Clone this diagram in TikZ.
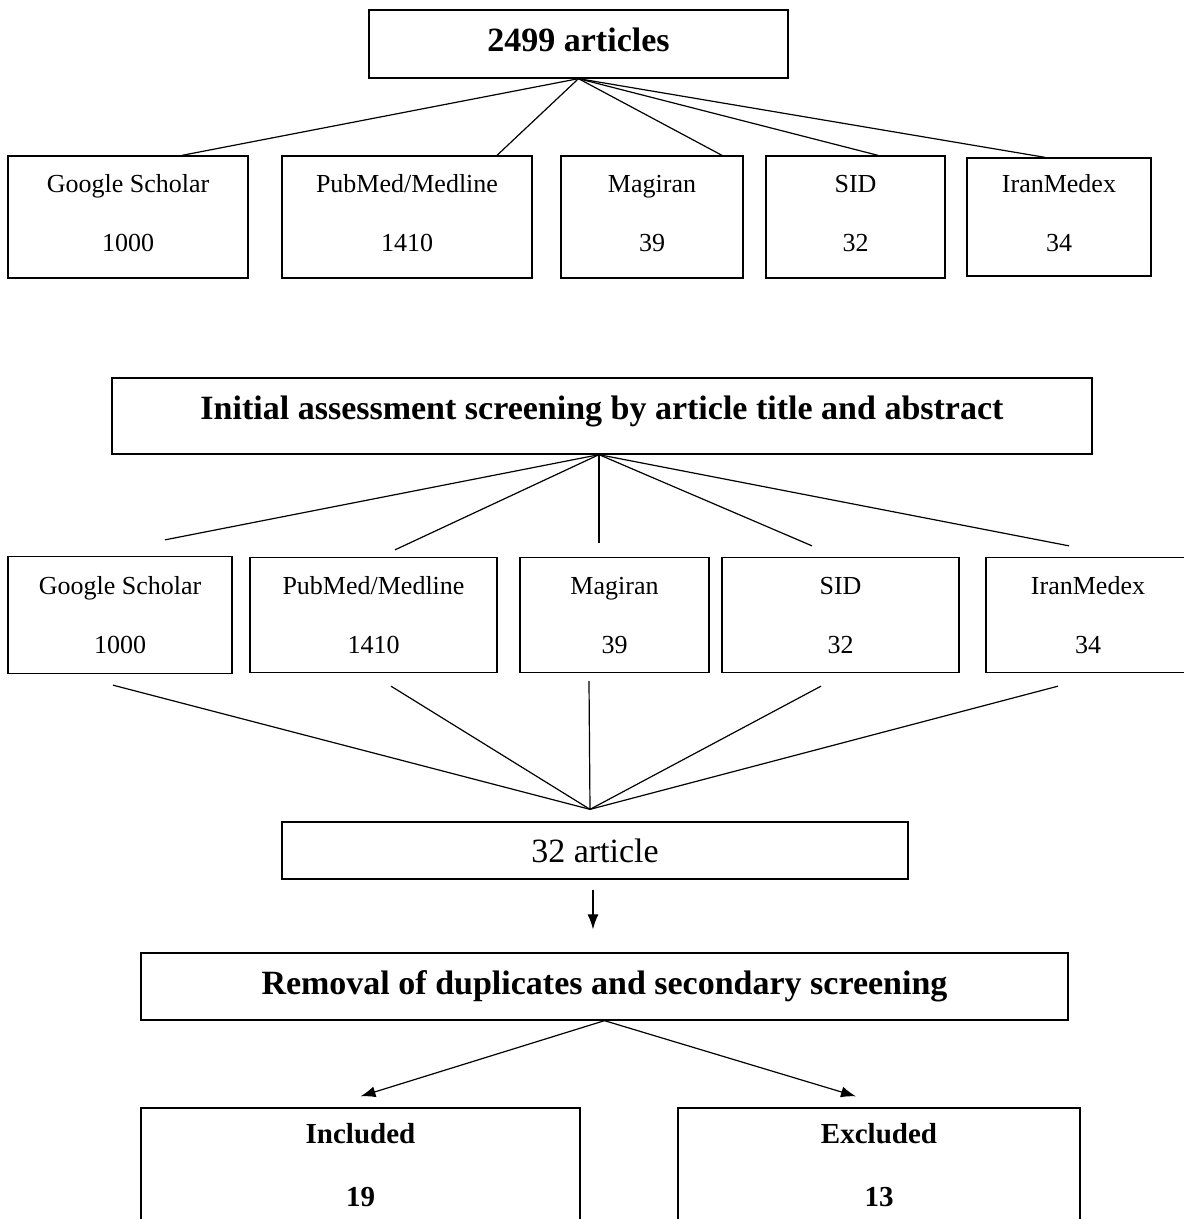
\documentclass[tikz,border=0pt]{standalone}
\usepackage{fontspec}
\setmainfont{Liberation Serif}
\usetikzlibrary{calc,arrows,arrows.meta,positioning}
\tikzset{
    block/.style = {draw, rectangle, line width=1.3pt, inner sep=0pt,
        align=center},
    src/.style = {block, font=\fontsize{26}{30}\selectfont, text depth=#1},
    src/.default = 8pt,
    head/.style = {block, font=\fontsize{34}{40}\selectfont\bfseries},
    res/.style = {block, font=\fontsize{29}{34}\selectfont\bfseries},
    line/.style = {draw, line width=1.2pt},
    arrow/.style = {line, -{Latex[length=15pt,width=11pt]}}
}
\newcommand{\db}[2]{#1\\[29pt]#2}

\begin{document}
\begin{tikzpicture}[x=1pt,y=-1pt]
        \useasboundingbox (0,0) rectangle (1184,1219);
        \node [head, text depth=8pt, minimum width=419pt, minimum height=68pt] (total) at (578.5,44) {2499 articles};
        \node [src, minimum width=240pt, minimum height=122pt] (gs1) at (128,217) {\db{Google Scholar}{1000}};
        \node [src, right of=gs1, node distance=279pt, minimum width=250pt, minimum height=122pt] (pm1) {\db{PubMed/Medline}{1410}};
        \node [src, right of=pm1, node distance=245pt, minimum width=182pt, minimum height=122pt] (mg1) {\db{Magiran}{39}};
        \node [src, right of=mg1, node distance=203.5pt, minimum width=179pt, minimum height=122pt] (sid1) {\db{SID}{32}};
        \node [src, right of=sid1, node distance=203.5pt, minimum width=184pt, minimum height=118pt] (im1) {\db{IranMedex}{34}};
        \draw [line] (total.south) -- ([xshift=54pt]gs1.north);
        \draw [line] (total.south) -- ([xshift=90pt]pm1.north);
        \draw [line] (total.south) -- ([xshift=70pt]mg1.north);
        \draw [line] (total.south) -- ([xshift=22.5pt]sid1.north);
        \draw [line] (total.south) -- ([xshift=-14pt]im1.north);

        \node [head, text depth=17pt, minimum width=980pt, minimum height=76pt] (init) at (602,416) {Initial assessment screening by article title and abstract};
        \node [src=0pt, minimum width=224pt, minimum height=117pt] (gs2) at (120,615) {\db{Google Scholar}{1000}};
        \node [src=0pt, right of=gs2, node distance=253.5pt, minimum width=247pt, minimum height=115pt] (pm2) {\db{PubMed/Medline}{1410}};
        \node [src=0pt, right of=pm2, node distance=241pt, minimum width=189pt, minimum height=115pt] (mg2) {\db{Magiran}{39}};
        \node [src=0pt, right of=mg2, node distance=226pt, minimum width=237pt, minimum height=115pt] (sid2) {\db{SID}{32}};
        \node [src=0pt, right of=sid2, node distance=247.5pt, minimum width=204pt, minimum height=115pt] (im2) {\db{IranMedex}{34}};
        \coordinate (hub) at ([xshift=-3pt]init.south);
        \coordinate (u1) at ([xshift=45pt,yshift=16pt]gs2.north);
        \coordinate (u2) at ([xshift=21.5pt,yshift=7pt]pm2.north);
        \coordinate (u3) at ([xshift=-15.5pt,yshift=14pt]mg2.north);
        \coordinate (u4) at ([xshift=-28.5pt,yshift=11pt]sid2.north);
        \coordinate (u5) at ([xshift=-19pt,yshift=11pt]im2.north);
        \foreach \u in {u1,u2,u3,u4,u5}
            \draw [line] (hub) -- (\u);

        \node [block, font=\fontsize{34}{40}\selectfont, minimum width=626pt, minimum height=57pt] (art) at (595,850.5) {32 article};
        \coordinate (meet) at ([xshift=-5pt,yshift=12pt]art.north);
        \coordinate (d1) at ([xshift=-7pt,yshift=-11pt]gs2.south);
        \coordinate (d2) at ([xshift=17.5pt,yshift=-13pt]pm2.south);
        \coordinate (d3) at ([xshift=-25.5pt,yshift=-8pt]mg2.south);
        \coordinate (d4) at ([xshift=-19.5pt,yshift=-13pt]sid2.south);
        \coordinate (d5) at ([xshift=-30pt,yshift=-13pt]im2.south);
        \foreach \d in {d1,d2,d3,d4,d5}
            \draw [line] (\d) -- (meet);

        \node [head, minimum width=927pt, minimum height=67pt] (rem) at (604.5,986.5) {Removal of duplicates and secondary screening};
        \coordinate (a1) at ([xshift=-2pt,yshift=-10pt]art.south);
        \coordinate (a2) at ([xshift=-11.5pt,yshift=23pt]rem.north);
        \draw [arrow] (a1) -- (a2);

        \node [res, minimum width=439pt, minimum height=114pt] (inc) at (360.5,1165) {\db{Included}{19}};
        \node [res, minimum width=402pt, minimum height=114pt] (exc) at (879,1165) {\db{Excluded}{13}};
        \draw [arrow] (rem.south) -- ([yshift=11pt]inc.north);
        \draw [arrow] (rem.south) -- ([xshift=-23pt,yshift=11pt]exc.north);
    \end{tikzpicture}
\end{document}
